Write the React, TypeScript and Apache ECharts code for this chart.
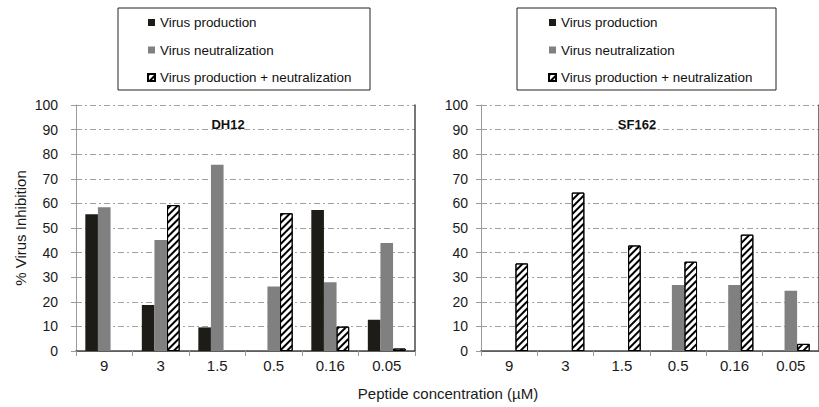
import React, { useEffect, useRef } from 'react';
import * as echarts from 'echarts';

const categories = ['9', '3', '1.5', '0.5', '0.16', '0.05'];
const seriesNames = ['Virus production', 'Virus neutralization', 'Virus production + neutralization'];
const panelTitles = ['DH12', 'SF162'];
const xAxisTitle = 'Peptide concentration (µM)';
const yAxisTitle = '% Virus Inhibition';

const dh12Production = [55.6, 18.7, 9.6, null, 57.3, 12.7];
const dh12Neutralization = [58.4, 45.1, 75.7, 26.2, 27.9, 43.9];
const dh12Combined = [null, 59.3, null, 56.0, 9.9, 1.0];

const sf162Production = [null, null, null, null, null, null];
const sf162Neutralization = [null, null, null, 26.8, 26.8, 24.5];
const sf162Combined = [35.6, 64.4, 42.9, 36.3, 47.3, 2.9];

const FONT = '"Liberation Sans", Arial, sans-serif';

export default function App() {
  const ref = useRef<HTMLDivElement>(null);
  useEffect(() => {
    if (!ref.current) return;
    const chart = echarts.init(ref.current, undefined, { renderer: 'svg' });
    const panels = [
      [dh12Production, dh12Neutralization, dh12Combined],
      [sf162Production, sf162Neutralization, sf162Combined],
    ];
    const grids = [
      { left: 76, top: 105, width: 339, height: 246 },
      { left: 481, top: 105, width: 340, height: 246 },
    ];
    const labelMargins = [18, 13];
    const hatch = {
      symbol: 'rect',
      symbolSize: 1,
      color: '#000',
      backgroundColor: '#fff',
      dashArrayX: [1, 0],
      dashArrayY: [2, 2.2],
      rotation: -Math.PI / 4,
    };
    const styles = [
      { color: '#1e1c16' },
      { color: '#808080' },
      { color: '#fff', borderColor: '#000', borderWidth: 1, decal: hatch },
    ];
    const xAxes: any[] = [];
    const yAxes: any[] = [];
    const series: any[] = [];
    grids.forEach((_, i) => {
      xAxes.push({
        type: 'category',
        gridIndex: i,
        data: categories,
        position: 'bottom',
        axisLine: { lineStyle: { color: '#9a9a9a', width: 1 } },
        axisTick: { show: true, length: 5, lineStyle: { color: '#9a9a9a' } },
        axisLabel: { fontSize: 15, color: '#1a1a1a', fontFamily: FONT, margin: 7 },
        splitLine: { show: false },
      });
      yAxes.push({
        type: 'value',
        gridIndex: i,
        min: 0,
        max: 100,
        interval: 10,
        position: 'left',
        axisLine: { show: true, lineStyle: { color: '#9a9a9a', width: 1 } },
        axisTick: { show: true, length: 5, lineStyle: { color: '#9a9a9a' } },
        axisLabel: { fontSize: 14, color: '#1a1a1a', fontFamily: FONT, margin: labelMargins[i] },
        splitLine: { show: true, lineStyle: { color: '#a0a0a0', width: 1, type: [6, 3, 2, 3] } },
        name: i === 0 ? yAxisTitle : '',
        nameLocation: 'middle',
        nameGap: 48,
        nameTextStyle: { fontSize: 15, color: '#1a1a1a', fontFamily: FONT },
      });
    });
    grids.forEach((_, i) => {
      xAxes.push({
        type: 'category',
        gridIndex: i,
        data: categories,
        position: 'top',
        axisLine: { show: true, lineStyle: { color: '#4a4a4a', width: 1.5 } },
        axisTick: { show: false },
        axisLabel: { show: false },
        splitLine: { show: false },
      });
      yAxes.push({
        type: 'value',
        gridIndex: i,
        min: 0,
        max: 100,
        interval: 10,
        position: 'right',
        axisLine: { show: true, lineStyle: { color: '#4a4a4a', width: 1.5 } },
        axisTick: { show: false },
        axisLabel: { show: false },
        splitLine: { show: false },
      });
    });
    panels.forEach((vals, i) => {
      vals.forEach((data, j) => {
        series.push({
          type: 'bar',
          name: seriesNames[j],
          xAxisIndex: i,
          yAxisIndex: i,
          data,
          barGap: '0%',
          barCategoryGap: '33%',
          itemStyle: styles[j],
          emphasis: { disabled: true },
        });
      });
    });
    const legendBase = {
      orient: 'vertical',
      top: 16,
      itemWidth: 7,
      itemHeight: 7,
      itemGap: 14.5,
      padding: 0,
      icon: 'rect',
      selectedMode: false,
      data: seriesNames,
      textStyle: { fontSize: 13.4, color: '#111', fontFamily: FONT },
    };
    chart.setOption({
      animation: false,
      backgroundColor: '#fff',
      textStyle: { fontFamily: FONT },
      grid: grids,
      xAxis: xAxes,
      yAxis: yAxes,
      series,
      legend: [
        { ...legendBase, left: 147 },
        { ...legendBase, left: 548 },
      ],
      title: [
        { text: panelTitles[0], left: 223, top: 113, textAlign: 'center', textStyle: { fontSize: 13, fontWeight: 'bold', color: '#111', fontFamily: FONT } },
        { text: panelTitles[1], left: 632, top: 113, textAlign: 'center', textStyle: { fontSize: 13, fontWeight: 'bold', color: '#111', fontFamily: FONT } },
        { text: xAxisTitle, left: 443, top: 381, textAlign: 'center', textStyle: { fontSize: 15, fontWeight: 'normal', color: '#1a1a1a', fontFamily: FONT } },
      ],
      graphic: [
        { type: 'rect', shape: { x: 118, y: 8, width: 252, height: 82 }, style: { fill: 'none', stroke: '#222', lineWidth: 1 }, z: -1 },
        { type: 'rect', shape: { x: 517, y: 8, width: 259, height: 82 }, style: { fill: 'none', stroke: '#222', lineWidth: 1 }, z: -1 },
      ],
    });
    return () => chart.dispose();
  }, []);
  return <div ref={ref} style={{ position: 'fixed', left: 0, top: 0, width: 819, height: 407 }} />;
}
